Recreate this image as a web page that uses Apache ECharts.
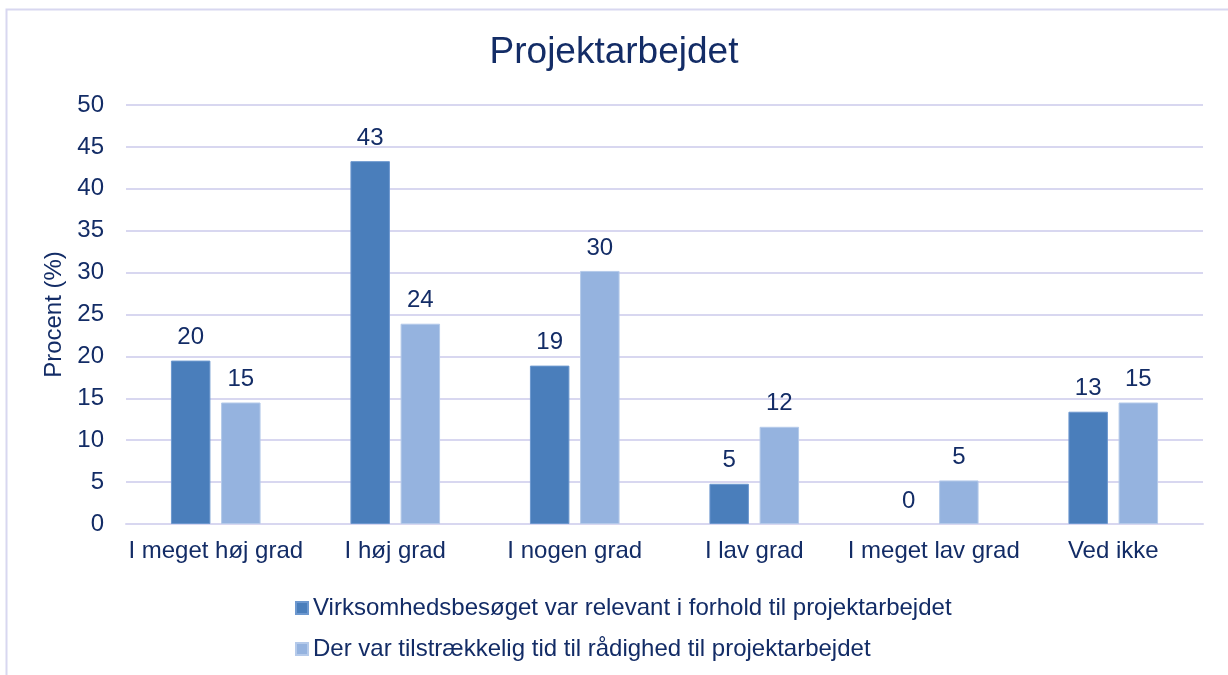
<!DOCTYPE html>
<html lang="da">
<head>
    <meta charset="UTF-8">
    <title>Projektarbejdet</title>
    <script src="https://cdn.jsdelivr.net/npm/echarts@6/dist/echarts.min.js"></script>
    <style>
        body { margin: 0; background: #ffffff; }
        #main { width: 1228px; height: 675px; }
    </style>
</head>
<body>
<div id="main"></div>

<script type="text/javascript">
    // data
    var categories = ['I meget høj grad', 'I høj grad', 'I nogen grad', 'I lav grad', 'I meget lav grad', 'Ved ikke'];
    var seriesNames = [
        'Virksomhedsbesøget var relevant i forhold til projektarbejdet',
        'Der var tilstrækkelig tid til rådighed til projektarbejdet'
    ];
    var relevantValues = [19.5, 43.3, 18.9, 4.8, 0, 13.4];
    var timeValues = [14.5, 23.9, 30.2, 11.6, 5.2, 14.5];

    var textColor = '#132c66';
    var lineColor = '#d8d7f0';
    var fontFamily = '"Liberation Sans", Arial, sans-serif';
    var fontSize = 24;

    var myChart = echarts.init(document.getElementById('main'));

    function makeBar(name, values, color, border) {
        return {
            name: name,
            type: 'bar',
            barWidth: '22%',
            barGap: '27%',
            itemStyle: {
                color: color,
                borderColor: border,
                borderWidth: 1
            },
            label: {
                show: true,
                position: 'top',
                distance: 11,
                color: textColor,
                fontSize: fontSize,
                fontFamily: fontFamily,
                formatter: function (p) {
                    return Math.round(p.value);
                }
            },
            // no outline on an empty bar, so nothing shows on the base line
            data: values.map(function (v) {
                return v === 0 ? { value: v, itemStyle: { borderWidth: 0 } } : v;
            })
        };
    }

    var option = {
        backgroundColor: '#ffffff',
        textStyle: { fontFamily: fontFamily },
        title: {
            text: 'Projektarbejdet',
            left: 'center',
            top: 29,
            textStyle: {
                color: textColor,
                fontSize: 37,
                fontWeight: 'normal',
                fontFamily: fontFamily
            }
        },
        // thin frame round the chart, top and left edges only
        graphic: [
            {
                type: 'polyline',
                silent: true,
                shape: { points: [[6.5, 680], [6.5, 9.5], [1228, 9.5]] },
                style: { stroke: lineColor, lineWidth: 2, fill: null }
            }
        ],
        legend: {
            orient: 'vertical',
            left: 290,
            top: 591,
            itemWidth: 12,
            itemHeight: 12,
            itemGap: 17,
            icon: 'rect',
            data: seriesNames,
            textStyle: {
                color: textColor,
                fontSize: fontSize,
                fontFamily: fontFamily,
                padding: [0, 0, 0, 0]
            }
        },
        grid: {
            left: 126,
            right: 25,
            top: 105,
            bottom: 151
        },
        xAxis: {
            type: 'category',
            data: categories,
            axisTick: { show: false },
            axisLine: { show: true, lineStyle: { color: lineColor, width: 2 } },
            axisLabel: {
                color: textColor,
                fontSize: fontSize,
                margin: 15,
                fontFamily: fontFamily,
                interval: 0
            }
        },
        yAxis: {
            type: 'value',
            min: 0,
            max: 50,
            interval: 5,
            name: 'Procent (%)',
            nameLocation: 'middle',
            nameGap: 58,
            nameTextStyle: {
                color: textColor,
                fontSize: fontSize,
                fontFamily: fontFamily
            },
            axisLine: { show: false },
            axisTick: { show: false },
            splitLine: { lineStyle: { color: lineColor, width: 2 } },
            axisLabel: {
                color: textColor,
                fontSize: fontSize,
                margin: 22,
                fontFamily: fontFamily
            }
        },
        series: [
            makeBar(seriesNames[0], relevantValues, '#4a7ebb', '#6d98cf'),
            makeBar(seriesNames[1], timeValues, '#95b3df', '#b5caea')
        ]
    };

    myChart.setOption(option);
</script>
</body>
</html>
